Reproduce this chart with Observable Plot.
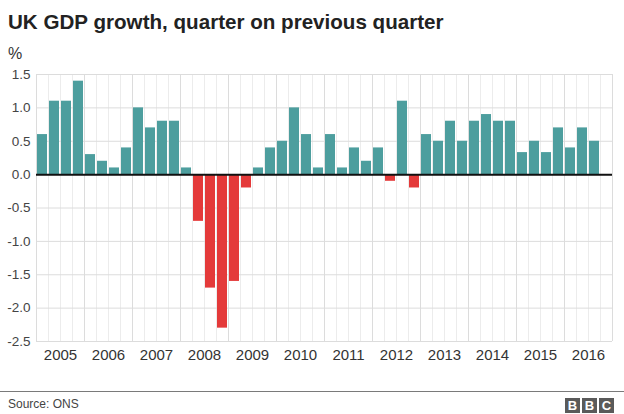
<!DOCTYPE html>
<html><head><meta charset="utf-8">
<script src="https://cdn.jsdelivr.net/npm/d3@7"></script>
<script src="https://cdn.jsdelivr.net/npm/@observablehq/plot@0.6"></script>
<style>
body{margin:0;background:#fff;font-family:"Liberation Sans",Arial,Helvetica,sans-serif;}
#wrap{position:relative;width:624px;height:414px;overflow:hidden;}
#title{height:44px;box-sizing:border-box;padding:12px 0 0 8px;font-size:20.6px;font-weight:bold;color:#222;line-height:20px;}
#unit{position:absolute;left:8px;top:45px;font-size:16px;color:#333;}
#chart svg{display:block;}
#rule{position:absolute;left:0;top:391px;width:624px;height:1px;background:#7a7a7a;}
#source{position:absolute;left:8px;top:397px;font-size:12px;color:#444;}
#logo{position:absolute;left:565px;top:398px;display:flex;gap:2px;}
#logo span{width:15px;height:15px;background:#5a5a5a;color:#fff;font-weight:bold;font-size:13px;line-height:15px;text-align:center;}
</style>
</head><body>
<div id="wrap">
  <div id="title">UK GDP growth, quarter on previous quarter</div>
  <div id="unit">%</div>
  <div id="chart"></div>
  <div id="rule"></div>
  <div id="source">Source: ONS</div>
  <div id="logo"><span>B</span><span>B</span><span>C</span></div>
</div>
<script>
const quarters = [
  "2005 Q1","2005 Q2","2005 Q3","2005 Q4",
  "2006 Q1","2006 Q2","2006 Q3","2006 Q4",
  "2007 Q1","2007 Q2","2007 Q3","2007 Q4",
  "2008 Q1","2008 Q2","2008 Q3","2008 Q4",
  "2009 Q1","2009 Q2","2009 Q3","2009 Q4",
  "2010 Q1","2010 Q2","2010 Q3","2010 Q4",
  "2011 Q1","2011 Q2","2011 Q3","2011 Q4",
  "2012 Q1","2012 Q2","2012 Q3","2012 Q4",
  "2013 Q1","2013 Q2","2013 Q3","2013 Q4",
  "2014 Q1","2014 Q2","2014 Q3","2014 Q4",
  "2015 Q1","2015 Q2","2015 Q3","2015 Q4",
  "2016 Q1","2016 Q2","2016 Q3"
];
const growth = [
  0.6, 1.1, 1.1, 1.4,
  0.3, 0.2, 0.1, 0.4,
  1.0, 0.7, 0.8, 0.8,
  0.1, -0.7, -1.7, -2.3,
  -1.6, -0.2, 0.1, 0.4,
  0.5, 1.0, 0.6, 0.1,
  0.6, 0.1, 0.4, 0.2,
  0.4, -0.1, 1.1, -0.2,
  0.6, 0.5, 0.8, 0.5,
  0.8, 0.9, 0.8, 0.8,
  0.33, 0.5, 0.33, 0.7,
  0.4, 0.7, 0.5
];
const yearLabels = [2005,2006,2007,2008,2009,2010,2011,2012,2013,2014,2015,2016];
const yTicks = [-2.5,-2.0,-1.5,-1.0,-0.5,0,0.5,1.0,1.5];
const teal = "#4d9e9e", red = "#e43a3a";

const data = quarters.map((q, i) => {
  const y = +q.slice(0, 4), n = +q.slice(-1);
  return {q, t: y + (n - 1) / 4, v: growth[i]};
});
const yearLines = yearLabels.concat([yearLabels[yearLabels.length - 1] + 1]);
const quarterLines = yearLabels.flatMap(y => [y + 0.25, y + 0.5, y + 0.75]);

const chart = Plot.plot({
  width: 624,
  height: 327,
  marginTop: 30,
  marginBottom: 30,
  marginLeft: 36,
  marginRight: 12,
  style: {fontFamily: "Liberation Sans, Arial, sans-serif", fontSize: "13.5px", color: "#444", background: "#fff"},
  x: {domain: [2005, 2017]},
  y: {domain: [-2.5, 1.5]},
  marks: [
    Plot.ruleX(quarterLines, {y1: -2.5, y2: 1.5, stroke: "#ececec"}),
    Plot.ruleX(yearLines, {y1: -2.5, y2: 1.5, stroke: "#dcdcdc"}),
    Plot.ruleY(yTicks, {stroke: "#dcdcdc"}),
    Plot.rectY(data, {x1: "t", x2: d => d.t + 0.25, y: "v", fill: d => d.v < 0 ? red : teal, insetLeft: 1, insetRight: 1}),
    Plot.ruleY([0], {stroke: "#111", strokeWidth: 2}),
    Plot.axisY(yTicks, {tickSize: 0, tickPadding: 6, tickFormat: d => d.toFixed(1), label: null}),
    Plot.axisX(yearLabels.map(y => y + 0.5), {tickSize: 0, tickPadding: 8, tickFormat: d => String(Math.floor(d)), fontSize: 15, label: null, fill: "#333"})
  ]
});
document.getElementById("chart").appendChild(chart);
</script>
</body></html>
